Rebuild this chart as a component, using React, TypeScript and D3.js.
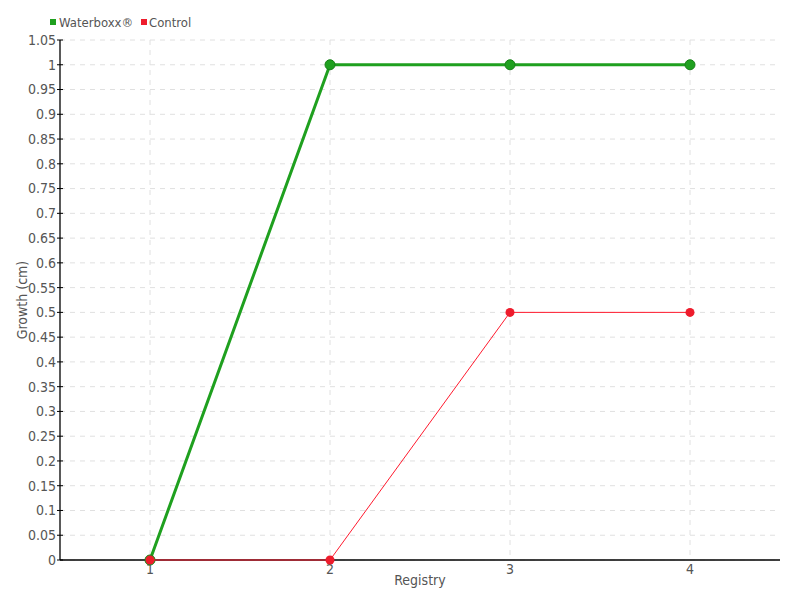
import React from "react";
import * as d3 from "d3";

const categories = ["1", "2", "3", "4"];
const waterboxx = [0, 1, 1, 1];
const control = [0, 0, 0.5, 0.5];
const yTicks = d3.range(0, 22).map((i) => +(i * 0.05).toFixed(2));

const FONT = "'DejaVu Sans Condensed', 'DejaVu Sans', sans-serif";

export default function App() {
  const W = 800, H = 600;
  const left = 60, right = 780, top = 40, bottom = 560;
  const x = d3.scalePoint<string>().domain(categories).range([left, right]).padding(0.5);
  const y = d3.scaleLinear().domain([0, 1.05]).range([bottom, top]);
  const line = d3.line<number>().x((_, i) => x(categories[i])!).y((d) => y(d));
  const fmt = (v: number) => String(+v.toFixed(2));
  return (
    <svg width={W} height={H} style={{ position: "absolute", left: 0, top: 0, fontFamily: FONT }}>
      <rect width={W} height={H} fill="#fff" />
      {yTicks.map((t) => (
        <line key={"gy" + t} x1={left} x2={right} y1={y(t)} y2={y(t)} stroke="#e0e0e0" strokeDasharray="5,5" />
      ))}
      {categories.map((c) => (
        <line key={"gx" + c} x1={x(c)} x2={x(c)} y1={top} y2={bottom} stroke="#e0e0e0" strokeDasharray="5,5" />
      ))}
      <line x1={left} x2={left} y1={top} y2={bottom} stroke="#000" strokeWidth={1.3} />
      <line x1={left} x2={right} y1={bottom} y2={bottom} stroke="#000" strokeWidth={1.3} />
      {yTicks.map((t) => (
        <g key={"ty" + t}>
          <line x1={left - 3} x2={left + 3} y1={y(t)} y2={y(t)} stroke="#000" />
          <text x={left - 4} y={y(t)} dy="0.35em" textAnchor="end" fontSize={14} fill="#555">{fmt(t)}</text>
        </g>
      ))}
      {categories.map((c) => (
        <text key={"tx" + c} x={x(c)} y={bottom + 14} textAnchor="middle" fontSize={14} fill="#555">{c}</text>
      ))}
      <text x={(left + right) / 2} y={585} textAnchor="middle" fontSize={14} fill="#555">Registry</text>
      <text transform={`translate(27,${(top + bottom) / 2}) rotate(-90)`} textAnchor="middle" fontSize={14} fill="#555">Growth (cm)</text>
      <path d={line(waterboxx)!} fill="none" stroke="#1fa01f" strokeWidth={3} />
      {waterboxx.map((v, i) => (
        <circle key={"wp" + i} cx={x(categories[i])} cy={y(v)} r={5} fill="#1fa01f" stroke="#178017" strokeWidth={1} />
      ))}
      <path d={line(control)!} fill="none" stroke="#ff1a2e" strokeWidth={1} />
      {control.map((v, i) => (
        <circle key={"cp" + i} cx={x(categories[i])} cy={y(v)} r={4.5} fill="#ee1c2c" />
      ))}
      <rect x={50} y={19} width={6} height={6} fill="#1fa01f" />
      <text x={59} y={27} fontSize={13} fill="#555">Waterboxx®</text>
      <rect x={141} y={19} width={6} height={6} fill="#ee1c2c" />
      <text x={149} y={27} fontSize={13} fill="#555">Control</text>
    </svg>
  );
}
